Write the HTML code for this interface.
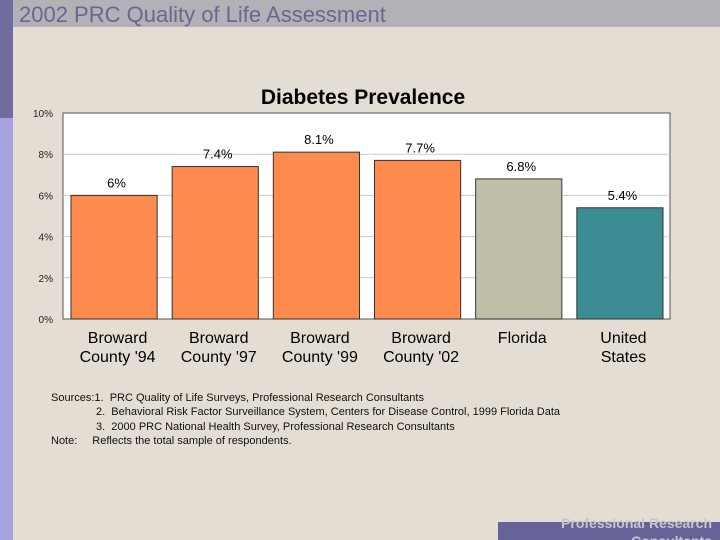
<!DOCTYPE html>
<html style="overflow:hidden;width:720px;height:540px"><head><meta charset="utf-8"><style>
body{margin:0;width:720px;height:540px;overflow:hidden;background:#e3ddd3;font-family:"Liberation Sans",sans-serif;position:relative}
.abs{position:absolute}
</style></head><body>
<div class="abs" style="left:0;top:0;width:720px;height:27px;background:#b2b1b5"></div>
<div class="abs" style="left:0;top:0;width:13px;height:118px;background:#706c9e"></div>
<div class="abs" style="left:0;top:118px;width:13px;height:422px;background:#a6a2e0"></div>
<div class="abs" style="left:19px;top:2px;font-size:22px;color:#6a6690">2002 PRC Quality of Life Assessment</div>
<div class="abs" style="left:498px;top:522px;width:222px;height:18px;background:#666398"></div>
<div class="abs" style="left:498px;top:514px;width:214px;height:26px;overflow:hidden;text-align:right;font-size:14px;font-weight:bold;color:#c8c6cc;line-height:18px">Professional Research<br>Consultants</div>
<svg class="abs" style="left:0;top:0" width="720" height="540" id="chart"></svg>
<div class="abs" style="left:51px;top:391px;font-size:11px;line-height:14.3px;color:#111">
<div>Sources:1.&nbsp; PRC Quality of Life Surveys, Professional Research Consultants</div>
<div style="padding-left:45px">2.&nbsp; Behavioral Risk Factor Surveillance System, Centers for Disease Control, 1999 Florida Data</div>
<div style="padding-left:45px">3.&nbsp; 2000 PRC National Health Survey, Professional Research Consultants</div>
<div>Note:<span style="padding-left:15px">Reflects the total sample of respondents.</span></div>
</div>
<script>
const categories=["Broward\nCounty '94","Broward\nCounty '97","Broward\nCounty '99","Broward\nCounty '02","Florida","United\nStates"];
const values=[6,7.4,8.1,7.7,6.8,5.4];
const valueLabels=["6%","7.4%","8.1%","7.7%","6.8%","5.4%"];
const colors=["#fe8a4e","#fe8a4e","#fe8a4e","#fe8a4e","#bfbfa8","#3c8c93"];
const ticks=[0,2,4,6,8,10];
const NS="http://www.w3.org/2000/svg";
const svg=document.getElementById('chart');
const X0=63,X1=670,Y0=319,Y1=113,MAX=10;
const y=v=>Y0-(v/MAX)*(Y0-Y1);
const bw=(X1-X0)/categories.length;
const x=i=>X0+i*bw;
function mk(t,a,txt){const e=document.createElementNS(NS,t);for(const k in a)e.setAttribute(k,a[k]);if(txt!=null)e.textContent=txt;svg.appendChild(e);return e;}
let e=mk('text',{x:363,y:104,'text-anchor':'middle','font-size':21,'font-weight':'bold','font-family':'Liberation Sans, sans-serif',fill:'#000'},'Diabetes Prevalence');


e=mk('rect',{x:X0,y:Y1,width:X1-X0,height:Y0-Y1,fill:'#fff',stroke:'#555','stroke-width':1});


ticks.forEach(t=>{
 if(t>0&&t<MAX){e=mk('line',{x1:X0,x2:X1,y1:y(t),y2:y(t),stroke:'#ccc','stroke-width':1});
 
 }
 e=mk('text',{x:53,y:y(t)+4,'text-anchor':'end','font-size':10,'font-family':'Liberation Sans, sans-serif',fill:'#222'},t+'%');
 
 
});
values.forEach((v,i)=>{
 e=mk('rect',{x:x(i)+8,y:y(v),width:bw-15,height:Y0-y(v),fill:colors[i],stroke:'#333','stroke-width':1});
 
 
 e=mk('text',{x:x(i)+bw/2+3,y:y(v)-8,'text-anchor':'middle','font-size':13,'font-family':'Liberation Sans, sans-serif',fill:'#000'},valueLabels[i]);
 
 
 categories[i].split('\n').forEach((ln,j)=>{
  const yy=343+j*19;
  e=mk('text',{x:x(i)+bw/2+4,y:yy,'text-anchor':'middle','font-size':16,'font-family':'Liberation Sans, sans-serif',fill:'#000'},ln);
  
  
 });
});
</script>
</body></html>
